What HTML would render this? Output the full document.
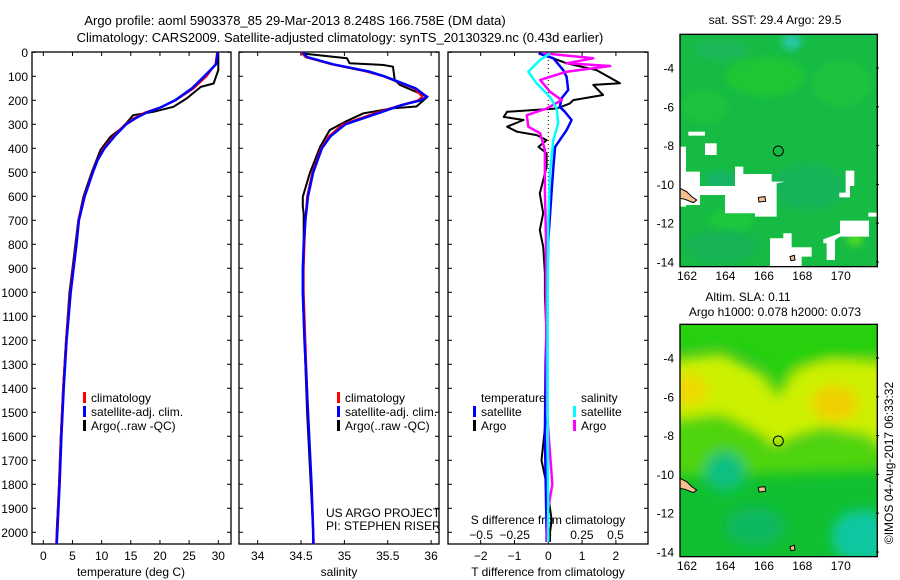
<!DOCTYPE html>
<html><head><meta charset="utf-8">
<style>
html,body{margin:0;padding:0;background:#fff;}
svg{display:block;font-family:"Liberation Sans",sans-serif;}
text{font-size:12px;fill:#000;}
</style></head>
<body>
<svg id="fig" width="900" height="580" viewBox="0 0 900 580" xmlns="http://www.w3.org/2000/svg">
<defs>
<filter id="blur4" x="-20%" y="-20%" width="140%" height="140%"><feGaussianBlur stdDeviation="18"/></filter>
<filter id="blur2"><feGaussianBlur stdDeviation="10"/></filter>
<clipPath id="clipTop"><rect x="75" y="103" width="592" height="697"/></clipPath>
<clipPath id="clipBot"><rect x="75" y="103" width="592" height="697"/></clipPath>
</defs>
<text x="295" y="25" text-anchor="middle" style="font-size:13px">Argo profile: aoml 5903378_85 29-Mar-2013 8.248S 166.758E (DM data)</text>
<text x="340" y="42" text-anchor="middle" style="font-size:13px">Climatology: CARS2009. Satellite-adjusted climatology: synTS_20130329.nc (0.43d earlier)</text>
<g id="plots"></g>

<!-- Top map: SST -->
<g transform="translate(655,0) scale(0.3333)">
 <g clip-path="url(#clipTop)">
  <rect x="75" y="103" width="592" height="697" fill="#16bb44"/>
  <g filter="url(#blur2)">
   <ellipse cx="410" cy="125" rx="30" ry="25" fill="#28c8a0"/>
   <ellipse cx="200" cy="150" rx="80" ry="30" fill="#1ab85c"/>
   <ellipse cx="330" cy="230" rx="120" ry="60" fill="#1cc636"/>
   <ellipse cx="560" cy="250" rx="90" ry="70" fill="#1ac23c"/>
   <ellipse cx="150" cy="320" rx="70" ry="50" fill="#1ac23c"/>
   <ellipse cx="460" cy="560" rx="110" ry="70" fill="#14b458"/>
   <ellipse cx="200" cy="540" rx="50" ry="25" fill="#14b46a"/>
   <ellipse cx="230" cy="660" rx="70" ry="30" fill="#1cc83a"/>
   <ellipse cx="200" cy="740" rx="110" ry="50" fill="#16b454"/>
   <ellipse cx="600" cy="720" rx="25" ry="18" fill="#50d828"/>
  </g>
  <g fill="#fff">
   <rect x="100" y="395" width="50" height="12"/>
   <rect x="150" y="430" width="35" height="35"/>
   <rect x="75" y="440" width="18" height="180"/>
   <rect x="93" y="515" width="42" height="100"/>
   <polygon points="240,500 265,500 265,522 350,522 350,545 390,545 365,550 365,650 385,650 385,700 410,700 410,742 470,742 470,770 440,770 440,800 345,800 345,715 385,715 385,650 300,650 300,640 210,640 210,585 135,585 135,558 240,558"/>
   <polygon points="572,512 598,512 598,558 585,558 585,592 553,592 553,578 572,578"/>
   <polygon points="555,662 642,662 642,710 555,710 540,720 540,780 515,780 515,730 505,730 505,718 555,700"/>
   <rect x="640" y="638" width="27" height="12"/>
  </g>
  <polygon points="75,565 95,575 110,590 125,600 115,608 90,598 75,595" fill="#f5c090" stroke="#000" stroke-width="3"/>
  <polygon points="310,592 330,590 332,604 312,606" fill="#f5c090" stroke="#000" stroke-width="3"/>
  <polygon points="405,770 418,766 420,780 408,782" fill="#f5c090" stroke="#000" stroke-width="3"/>
  <circle cx="370" cy="453" r="15" fill="none" stroke="#000" stroke-width="3"/>
 </g>
 <rect x="75" y="103" width="592" height="697" fill="none" stroke="#000" stroke-width="4"/>
</g>

<!-- Bottom map: SLA -->
<g transform="translate(655,290) scale(0.3333)">
 <g clip-path="url(#clipBot)">
  <rect x="75" y="103" width="592" height="697" fill="#10c030"/>
  <g filter="url(#blur4)">
   <polygon points="40,60 700,60 700,200 600,210 480,230 420,230 370,310 320,220 200,170 40,190" fill="#28d010"/>
   <polygon points="40,210 200,190 320,250 370,320 420,240 520,210 700,215 700,480 620,430 500,420 420,440 370,470 320,440 200,380 40,400" fill="#ccf000"/>
   <polygon points="40,390 200,370 320,430 370,480 450,440 600,430 700,480 700,540 40,560" fill="#50d410"/>
   <ellipse cx="100" cy="300" rx="60" ry="45" fill="#f0d800"/>
   <ellipse cx="540" cy="340" rx="70" ry="55" fill="#f0d000"/>
   <ellipse cx="210" cy="545" rx="60" ry="60" fill="#10c080"/>
   <ellipse cx="620" cy="740" rx="90" ry="80" fill="#10c8a0"/>
   <ellipse cx="300" cy="710" rx="90" ry="60" fill="#10b860"/>
  </g>
  <polygon points="75,565 95,575 110,590 125,600 115,608 90,598 75,595" fill="#f5c090" stroke="#000" stroke-width="3"/>
  <polygon points="310,592 330,590 332,604 312,606" fill="#f5c090" stroke="#000" stroke-width="3"/>
  <polygon points="405,770 418,766 420,780 408,782" fill="#f5c090" stroke="#000" stroke-width="3"/>
  <circle cx="370" cy="453" r="15" fill="none" stroke="#000" stroke-width="3"/>
 </g>
 <rect x="75" y="103" width="592" height="697" fill="none" stroke="#000" stroke-width="4"/>
</g>

<text x="775" y="24" text-anchor="middle">sat. SST: 29.4 Argo: 29.5</text>
<text x="748" y="301" text-anchor="middle">Altim. SLA: 0.11</text>
<text x="775" y="316" text-anchor="middle">Argo h1000: 0.078 h2000: 0.073</text>
<text transform="translate(893,463) rotate(-90)" text-anchor="middle">©IMOS 04-Aug-2017 06:33:32</text>
<g id="maplabels"></g>
</svg>
<script>
// ---- data ----
const tDepth=[0,50,100,150,200,230,250,275,300,350,400,450,500,600,700,800,900,1000,1200,1400,1600,1800,2000,2050];
const tClim=[29.8,29.5,28.0,25.8,22.7,20.0,17.5,15.5,14.0,12.0,10.3,9.2,8.4,7.0,6.0,5.6,5.1,4.6,3.9,3.4,3.0,2.7,2.3,2.2];
const tSat=[29.9,29.6,27.6,25.5,22.6,20.1,17.8,15.8,14.2,12.2,10.5,9.3,8.5,7.1,6.1,5.7,5.2,4.7,4.0,3.5,3.1,2.8,2.4,2.3];
const tArgoDepth=[4,74,130,144,192,227,248,262,311,352,407,500,600,700,800,900,1000,1200,1400,1600,1800,2000,2040];
const tArgo=[30.0,30.0,29.2,27.0,24.6,22.3,18.9,15.4,13.7,11.5,9.8,8.3,6.9,6.0,5.5,5.0,4.5,3.9,3.4,3.0,2.7,2.3,2.3];
const sDepth=[0,20,50,80,100,150,185,200,220,250,300,350,400,500,600,700,800,900,1000,1200,1500,1800,2000,2050];
const sClim=[34.50,34.55,34.85,35.25,35.45,35.80,35.90,35.85,35.65,35.38,34.98,34.82,34.73,34.63,34.57,34.55,34.54,34.53,34.53,34.55,34.58,34.62,34.64,34.65];
const sSat=[34.52,34.57,34.87,35.28,35.46,35.82,35.95,35.88,35.66,35.42,35.01,34.84,34.74,34.64,34.58,34.55,34.53,34.52,34.52,34.54,34.58,34.62,34.64,34.64];
const sArgoDepth=[4,25,46,53,60,115,136,185,226,233,254,289,324,394,505,602,643,671,800,1000,1500,2000,2040];
const sArgo=[34.49,35.03,35.06,35.45,35.56,35.58,35.64,35.96,35.83,35.56,35.22,35.01,34.83,34.72,34.60,34.52,34.52,34.53,34.53,34.52,34.57,34.64,34.64];
const dTArgoDepth=[4,46,74,129,136,178,199,213,234,248,269,282,310,331,345,366,394,421,477,588,671,741,810,921,1005,1200,1500,1700,1800,1950,2000,2040];
const dTArgo=[-0.25,0.54,1.43,2.12,1.33,1.62,0.74,0.64,0.25,-1.22,-1.32,-0.73,-1.22,-0.93,-0.34,-0.05,-0.29,-0.05,-0.05,-0.25,-0.15,-0.25,-0.15,-0.1,-0.1,-0.05,-0.05,-0.2,-0.05,0.1,0.05,0.05];
const dTSatDepth=[4,25,74,102,157,192,227,248,282,324,394,477,574,782,1000,1300,1600,2000,2040];
const dTSat=[-0.29,0.15,0.44,0.54,0.59,0.39,0.34,0.49,0.69,0.54,0.2,0.15,0.1,0.0,-0.03,-0.08,-0.1,-0.05,-0.05];
const dSArgoDepth=[4,25,46,57,81,115,164,199,234,262,310,338,407,574,782,1000,1500,1800,1900,2000,2040];
const dSArgo=[-0.037,0.335,0.136,0.46,0.136,-0.06,0.012,0.1,-0.012,-0.16,-0.149,-0.06,-0.025,-0.025,-0.017,-0.017,-0.01,0.03,0.0,-0.01,-0.01];
const dSSatDepth=[4,32,81,129,185,234,296,366,505,700,1000,1500,2000,2040];
const dSSat=[0.012,-0.062,-0.149,-0.087,0.012,0.062,0.074,0.037,0.012,0.0,-0.005,-0.005,0.0,0.0];
const depthTicks=[0,100,200,300,400,500,600,700,800,900,1000,1100,1200,1300,1400,1500,1600,1700,1800,1900,2000];
const tTicks=[0,5,10,15,20,25,30];
const sTicks=[34,34.5,35,35.5,36];
const dTTicks=[-2,-1,0,1,2];
const dSTicks=[-0.5,-0.25,0,0.25,0.5];
const dSTickLabels=["−0.5","−0.25","0","0.25","0.5"];
const lonTicks=[162,164,166,168,170];
const latTicks=[-4,-6,-8,-10,-12,-14];

// ---- scales ----
const yD=d=>52.3+0.24*d;
const xT=t=>43.3+5.833*t;
const xS=s=>257.7+86.7*(s-34);
const xdT=v=>548.3+33.8*v;
const xdS=v=>548.3+134.3*v;
const xLon=l=>687+19.22*(l-162);
const yLatTop=l=>68+19.4*(-4-l);
const yLatBot=l=>358+19.4*(-4-l);

const NS="http://www.w3.org/2000/svg";
const G=document.getElementById('plots');
function mk(tag,attrs,parent){const e=document.createElementNS(NS,tag);for(const k in attrs)e.setAttribute(k,attrs[k]);(parent||G).appendChild(e);return e;}
function txt(x,y,s,anchor,parent){const e=mk('text',{x:x,y:y,'text-anchor':anchor||'start'},parent);e.textContent=s;return e;}

const panels=[{x0:32,x1:231,name:'temperature'},{x0:239,x1:439,name:'salinity'},{x0:448,x1:648,name:'difference'}];
const Y0=52,Y1=544;
panels.forEach(p=>{
  const r=mk('rect',{x:p.x0,y:Y0,width:p.x1-p.x0,height:Y1-Y0,fill:'none',stroke:'#000','stroke-width':1.3});
  
  
  depthTicks.forEach(d=>{
    mk('line',{x1:p.x0,x2:p.x0+4,y1:yD(d),y2:yD(d),stroke:'#000'});
    mk('line',{x1:p.x1-4,x2:p.x1,y1:yD(d),y2:yD(d),stroke:'#000'});
  });
});
depthTicks.forEach(d=>{
  const t=txt(28,yD(d)+4.5,String(d),'end');
  
  
});
function xticks(vals,fx,labels,ly){
  vals.forEach((v,i)=>{
    const x=fx(v);
    mk('line',{x1:x,x2:x,y1:Y0,y2:Y0+4,stroke:'#000'});
    mk('line',{x1:x,x2:x,y1:Y1-4,y2:Y1,stroke:'#000'});
    if(labels){const t=txt(x,ly,labels[i],'middle');
      
      }
  });
}
xticks(tTicks,xT,tTicks.map(String),560);
xticks(sTicks,xS,sTicks.map(String),560);
xticks(dTTicks,xdT,dTTicks.map(v=>v<0?'−'+(-v):String(v)),560);
dSTicks.forEach((v,i)=>{const t=txt(xdS(v),539,dSTickLabels[i],'middle');
  
  });

let t;
t=txt(131,576,'temperature (deg C)','middle');


t=txt(339,576,'salinity','middle');


t=txt(548,576,'T difference from climatology','middle');


t=txt(548,524,'S difference from climatology','middle');


t=txt(326,517,'US ARGO PROJECT','start');


t=txt(326,530,'PI: STEPHEN RISER','start');



// zero line
const z=mk('line',{x1:xdT(0),x2:xdT(0),y1:Y0,y2:Y1,stroke:'#000','stroke-dasharray':'1,3'});



function line(depths,vals,fx,color,w,name){
  const pts=depths.map((d,i)=>fx(vals[i]).toFixed(1)+','+yD(d).toFixed(1)).join(' ');
  const e=mk('polyline',{points:pts,fill:'none',stroke:color,'stroke-width':w,'stroke-linejoin':'round'});
  
  
}
line(tArgoDepth,tArgo,xT,'#000',2,'temperature-argo-line');
line(tDepth,tClim,xT,'#f00',2,'temperature-climatology-line');
line(tDepth,tSat,xT,'#00f',2.5,'temperature-satellite-line');
line(sArgoDepth,sArgo,xS,'#000',2,'salinity-argo-line');
line(sDepth,sClim,xS,'#f00',2,'salinity-climatology-line');
line(sDepth,sSat,xS,'#00f',2.5,'salinity-satellite-line');
line(dTArgoDepth,dTArgo,xdT,'#000',2,'t-diff-argo-line');
line(dTSatDepth,dTSat,xdT,'#00f',2.5,'t-diff-satellite-line');
line(dSArgoDepth,dSArgo,xdS,'#f0f',2.5,'s-diff-argo-line');
line(dSSatDepth,dSSat,xdS,'#0ff',2.5,'s-diff-satellite-line');

function leg(x,y,color,label){
  mk('rect',{x:x,y:y-10,width:3,height:11,fill:color});
  const e=txt(x+8,y,label,'start');
  
  
}
leg(83,402,'#f00','climatology');leg(83,416,'#00f','satellite-adj. clim.');leg(83,430,'#000','Argo(..raw -QC)');
leg(337,402,'#f00','climatology');leg(337,416,'#00f','satellite-adj. clim.');leg(337,430,'#000','Argo(..raw -QC)');
t=txt(481,402,'temperature','start');


t=txt(581,402,'salinity','start');


leg(473,416,'#00f','satellite');leg(473,430,'#000','Argo');
leg(573,416,'#0ff','satellite');leg(573,430,'#f0f','Argo');

// map labels
const ML=document.getElementById('maplabels');
[[yLatTop,280],[yLatBot,570]].forEach(([fy,ly])=>{
  latTicks.forEach(l=>{const e=txt(674,fy(l)+4.5,l<0?'-'+(-l):String(l),'end',ML);
    
    
    mk('line',{x1:876,x2:879,y1:fy(l),y2:fy(l),stroke:'#000'},ML);});
  lonTicks.forEach(l=>{const e=txt(xLon(l),ly,String(l),'middle',ML);
    
    });
});
</script>
</body></html>
